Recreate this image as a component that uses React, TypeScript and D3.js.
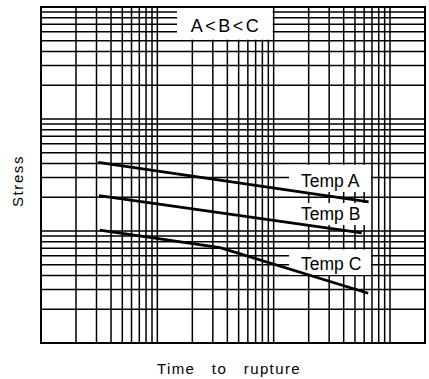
import React, { useEffect, useRef } from "react";
import * as d3 from "d3";

// Stress-rupture curves
const TEMP_A_TIME = [3.1, 655];
const TEMP_A_STRESS = [41, 18.2];
const TEMP_B_TIME = [3.15, 572];
const TEMP_B_STRESS = [20.7, 9.6];
const TEMP_C_TIME = [3.2, 34.6, 650];
const TEMP_C_STRESS = [10.2, 7.1, 2.78];

const SERIES_LABELS = ["Temp A", "Temp B", "Temp C"];
const X_DOMAIN = [1, 2000];
const Y_DOMAIN = [1, 1000];

const FONT = "'Liberation Sans', Arial, sans-serif";

const App: React.FC = () => {
    const svgRef = useRef<SVGSVGElement>(null);

    useEffect(() => {
        if (!svgRef.current) return;
        const W = 429;
        const H = 379;
        const M = { top: 7, right: 4, bottom: 36, left: 41 };

        const svg = d3.select(svgRef.current);
        svg.selectAll("*").remove();
        svg.attr("width", W).attr("height", H).attr("viewBox", `0 0 ${W} ${H}`);

        const x = d3.scaleLog().domain(X_DOMAIN).range([M.left, W - M.right]);
        const y = d3.scaleLog().domain(Y_DOMAIN).range([H - M.bottom, M.top]);

        const g = svg.append("g");

        // grid
        g.selectAll(".vx")
            .data(x.ticks())
            .enter()
            .append("line")
            .attr("x1", (d) => x(d)).attr("x2", (d) => x(d))
            .attr("y1", M.top).attr("y2", H - M.bottom)
            .attr("stroke", "#000")
            .attr("stroke-width", 1.5);

        g.selectAll(".hy")
            .data(y.ticks())
            .enter()
            .append("line")
            .attr("x1", M.left).attr("x2", W - M.right)
            .attr("y1", (d) => y(d)).attr("y2", (d) => y(d))
            .attr("stroke", "#000")
            .attr("stroke-width", 1.5);

        // white panel for the A<B<C note
        g.append("rect")
            .attr("x", 177).attr("y", M.top + 1)
            .attr("width", x(100) - 177 - 1)
            .attr("height", y(500) - M.top - 2)
            .attr("fill", "#fff");

        g.append("text")
            .attr("x", 226).attr("y", 32)
            .attr("text-anchor", "middle")
            .attr("font-family", FONT)
            .attr("font-size", 18)
            .attr("letter-spacing", 2.5)
            .text("A<B<C");

        // label panels (behind the curves)
        const panels = [
            { y0: 164.8, y1: 192 },
            { y0: 203, y1: 225 },
            { y0: 249.5, y1: 275 },
        ];
        panels.forEach((p, i) => {
            g.append("rect")
                .attr("x", 289).attr("y", p.y0)
                .attr("width", 82).attr("height", p.y1 - p.y0)
                .attr("fill", "#fff");
            g.append("text")
                .attr("x", 301).attr("y", p.y1 - 5)
                .attr("font-family", FONT)
                .attr("font-size", 17.5)
                .text(SERIES_LABELS[i]);
        });

        // frame
        g.append("rect")
            .attr("x", M.left).attr("y", M.top)
            .attr("width", W - M.left - M.right)
            .attr("height", H - M.top - M.bottom)
            .attr("fill", "none")
            .attr("stroke", "#000")
            .attr("stroke-width", 2);

        // curves
        const line = d3.line<[number, number]>()
            .x((d) => x(d[0]))
            .y((d) => y(d[1]));

        [
            [TEMP_A_TIME, TEMP_A_STRESS],
            [TEMP_B_TIME, TEMP_B_STRESS],
            [TEMP_C_TIME, TEMP_C_STRESS],
        ].forEach(([ts, ss]) => {
            g.append("path")
                .datum(ts.map((t, i) => [t, ss[i]] as [number, number]))
                .attr("fill", "none")
                .attr("stroke", "#000")
                .attr("stroke-width", 2.8)
                .attr("d", line);
        });

        // axis titles
        svg.append("text")
            .attr("transform", `translate(23,${(M.top + H - M.bottom) / 2 + 6}) rotate(-90)`)
            .attr("text-anchor", "middle")
            .attr("font-family", FONT)
            .attr("font-size", 15)
            .attr("letter-spacing", 1.6)
            .text("Stress");

        svg.append("text")
            .attr("x", 229).attr("y", 374)
            .attr("text-anchor", "middle")
            .attr("font-family", FONT)
            .attr("font-size", 15)
            .attr("letter-spacing", 1.4)
            .attr("word-spacing", 11)
            .text("Time to rupture");
    }, []);

    return (
        <div style={{ position: "absolute", left: 0, top: 0, background: "#fff" }}>
            <style>{`body{margin:0;background:#fff}`}</style>
            <svg ref={svgRef} style={{ display: "block" }} />
        </div>
    );
};

export default App;
